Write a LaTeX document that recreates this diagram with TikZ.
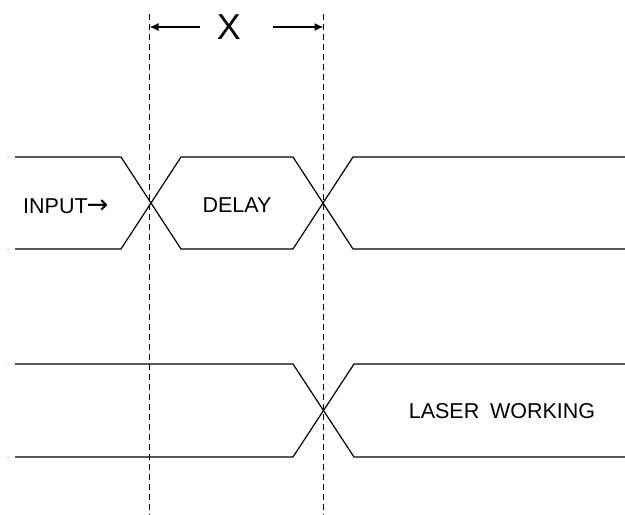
\documentclass[tikz,border=0pt]{standalone}
\usepackage{fontspec}
\setmainfont{Liberation Sans}
\newfontfamily\arrowfont{DejaVu Sans}
\usetikzlibrary{arrows.meta}
\begin{document}
\begin{tikzpicture}[x=1pt,y=-1pt,
  wave/.style={line width=1.2pt, line join=miter},
  guide/.style={line width=1.1pt, dash pattern=on 6pt off 4pt},
  lbl/.style={font=\fontsize{21.5}{25}\selectfont, inner sep=0pt},
  big/.style={font=\fontsize{36}{40}\selectfont, inner sep=0pt},
  dim/.style={line width=1.3pt, -{Latex[length=9pt,width=8pt]}},
  tick/.style={gray!40, line width=0.8pt}]
\useasboundingbox (0,0) rectangle (625,515);
% guide lines
\coordinate (g1t) at (149.5,14);
\coordinate (g1b) at (149.5,515);
\coordinate (g2t) at (323.5,14);
\coordinate (g2b) at (323.5,515);
\draw[guide] (g1t) -- (g1b);
\draw[guide] (g2t) -- (g2b);
% dimension X
\node[big] (X) at (229,27) {X};
\coordinate (a1s) at (200,27);
\coordinate (a1e) at (149.5,27);
\coordinate (a2s) at (273,27);
\coordinate (a2e) at (323.5,27);
\draw[dim] (a1s) -- (a1e);
\draw[dim] (a2s) -- (a2e);
% upper waveform
\draw[wave] (15,157) -- (121,157) -- (181,249) -- (293,249) -- (353,157) -- (625,157);
\draw[wave] (15,249) -- (121,249) -- (181,157) -- (293,157) -- (353,249) -- (625,249);
% lower waveform
\draw[wave] (15,364) -- (293,364) -- (354,457) -- (625,457);
\draw[wave] (15,457) -- (293,457) -- (354,364) -- (625,364);
% faint ticks
\draw[tick] (7,157) -- (8.5,157);
\draw[tick] (7,249) -- (8.5,249);
\draw[tick] (7,364) -- (8.5,364);
\draw[tick] (7,457) -- (8.5,457);
% labels
\node[lbl, anchor=west] (input) at (23,206) {INPUT{\arrowfont\fontsize{26}{26}\selectfont\kern-1pt →}};
\node[lbl] (delay) at (237,205) {DELAY};
\node[lbl] (laser) at (502,411) {LASER\hspace{0.5em}WORKING};
\end{tikzpicture}
\end{document}
